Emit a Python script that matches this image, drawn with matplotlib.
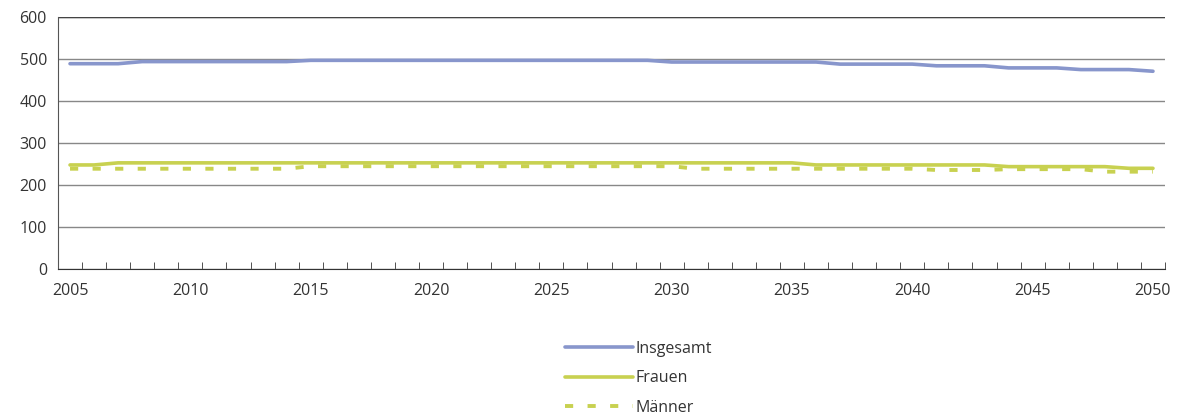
import numpy as np
import matplotlib.pyplot as plt

jahre = list(range(2005, 2051))

# Bevölkerung in Tausend, 2005-2050
insgesamt = [489] * 3 + [494] * 7 + [497] * 15 + [493] * 7 + [488] * 4 + [484] * 3 + [479] * 3 + [475] * 3 + [471]
frauen = [248] * 2 + [253] * 29 + [248] * 8 + [244] * 5 + [240] * 2
maenner = [239] * 10 + [245] * 16 + [239] * 10 + [236] * 3 + [238] * 4 + [232] * 3

blau = '#8896cc'
gruen = '#c8d150'

plt.rcParams['font.family'] = ['Open Sans', 'DejaVu Sans']
fig = plt.figure(figsize=(11.86, 4.16), dpi=100)
ax = fig.add_axes([0.0489, 0.353, 0.9334, 0.606])

x = np.arange(len(jahre))
ax.plot(x, insgesamt, color=blau, lw=2.6, label='Insgesamt', solid_capstyle='round')
ax.plot(x, frauen, color=gruen, lw=2.6, label='Frauen', solid_capstyle='round')
ax.plot(x, maenner, color=gruen, lw=2.8, label='Männer', dashes=(2.1, 3.7), dash_capstyle='butt')

ax.set_xlim(-0.5, len(jahre) - 0.5)
ax.set_ylim(0, 600)
ax.set_yticks(range(0, 601, 100))
ax.yaxis.grid(True, color='#888888', lw=1)
ax.set_axisbelow(True)
ax.tick_params(axis='y', length=0, labelsize=11.5, colors='#333333', pad=8)

ax.set_xticks(x[::5])
ax.set_xticklabels([str(j) for j in jahre[::5]])
ax.set_xticks(np.arange(-0.5, len(jahre)), minor=True)
ax.tick_params(axis='x', which='major', length=0, labelsize=11.5, colors='#333333', pad=10)
ax.tick_params(axis='x', which='minor', direction='in', length=5, color='#333333')

for s in ['top', 'right']:
    ax.spines[s].set_visible(False)
ax.spines['left'].set_color('#555555')
ax.spines['bottom'].set_color('#333333')
ax.axhline(600, color='#444444', lw=1)

fig.legend(loc='upper left', bbox_to_anchor=(0.47, 0.2), frameon=False,
           handlelength=4.25, handletextpad=0.15, labelspacing=0.85,
           fontsize=11.5, borderpad=0, labelcolor='#333333')

fig.savefig('out.png', dpi=100)
